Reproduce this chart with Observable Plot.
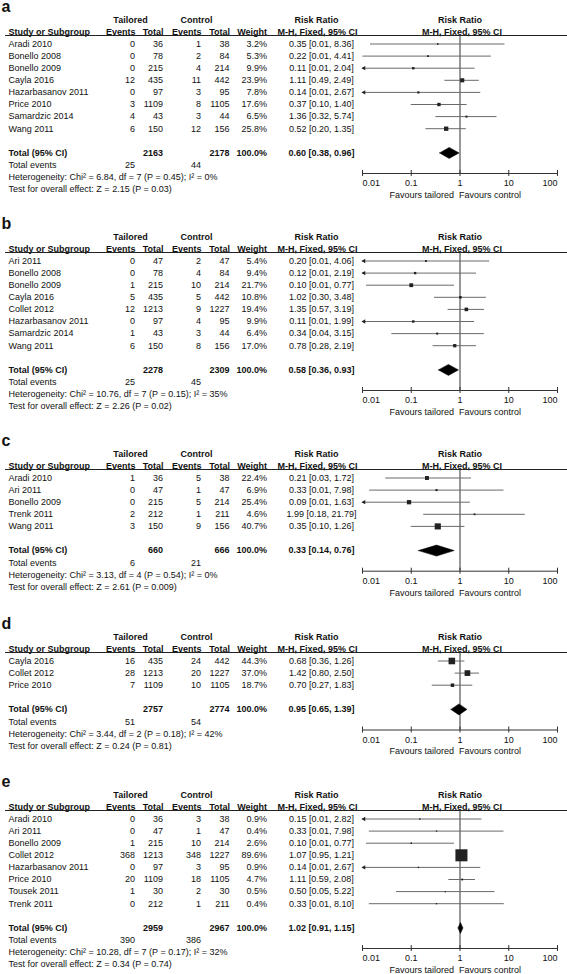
<!DOCTYPE html>
<html>
<head>
<meta charset="utf-8">
<script src="https://cdn.jsdelivr.net/npm/d3@7"></script>
<script src="https://cdn.jsdelivr.net/npm/@observablehq/plot@0.6"></script>
<style>
  html, body { margin: 0; padding: 0; background: #fff; }
  #chart { width: 567px; }
  #chart svg { display: block; }
</style>
</head>
<body>
<div id="chart"></div>
<script>
// ---------- Panel a ----------
const aStudy   = ["Aradi 2010", "Bonello 2008", "Bonello 2009", "Cayla 2016", "Hazarbasanov 2011", "Price 2010", "Samardzic 2014", "Wang 2011"];
const aTailEv  = [0, 0, 0, 12, 0, 3, 4, 6];
const aTailTot = [36, 78, 215, 435, 97, 1109, 43, 150];
const aCtrlEv  = [1, 2, 4, 11, 3, 8, 3, 12];
const aCtrlTot = [38, 84, 214, 442, 95, 1105, 44, 156];
const aWeight  = [3.2, 5.3, 9.9, 23.9, 7.8, 17.6, 6.5, 25.8];
const aRR      = [0.35, 0.22, 0.11, 1.11, 0.14, 0.37, 1.36, 0.52];
const aLo      = [0.01, 0.01, 0.01, 0.49, 0.01, 0.10, 0.32, 0.20];
const aHi      = [8.36, 4.41, 2.04, 2.49, 2.67, 1.40, 5.74, 1.35];
const aLoLine  = [0.0146, 0.0102, 0.006, 0.49, 0.007, 0.10, 0.32, 0.20];
const aTotals  = [2163, 2178];
const aEvents  = [25, 44];
const aPooled  = [0.60, 0.38, 0.96];
const aHet     = "Heterogeneity: Chi² = 6.84, df = 7 (P = 0.45); I² = 0%";
const aTest    = "Test for overall effect: Z = 2.15 (P = 0.03)";

// ---------- Panel b ----------
const bStudy   = ["Ari 2011", "Bonello 2008", "Bonello 2009", "Cayla 2016", "Collet 2012", "Hazarbasanov 2011", "Samardzic 2014", "Wang 2011"];
const bTailEv  = [0, 0, 1, 5, 12, 0, 1, 6];
const bTailTot = [47, 78, 215, 435, 1213, 97, 43, 150];
const bCtrlEv  = [2, 4, 10, 5, 9, 4, 3, 8];
const bCtrlTot = [47, 84, 214, 442, 1227, 95, 44, 156];
const bWeight  = [5.4, 9.4, 21.7, 10.8, 19.4, 9.9, 6.4, 17.0];
const bRR      = [0.20, 0.12, 0.10, 1.02, 1.35, 0.11, 0.34, 0.78];
const bLo      = [0.01, 0.01, 0.01, 0.30, 0.57, 0.01, 0.04, 0.28];
const bHi      = [4.06, 2.19, 0.77, 3.48, 3.19, 1.99, 3.15, 2.19];
const bLoLine  = [0.007, 0.006, 0.0121, 0.30, 0.57, 0.006, 0.04, 0.28];
const bTotals  = [2278, 2309];
const bEvents  = [25, 45];
const bPooled  = [0.58, 0.36, 0.93];
const bHet     = "Heterogeneity: Chi² = 10.76, df = 7 (P = 0.15); I² = 35%";
const bTest    = "Test for overall effect: Z = 2.26 (P = 0.02)";

// ---------- Panel c ----------
const cStudy   = ["Aradi 2010", "Ari 2011", "Bonello 2009", "Trenk 2011", "Wang 2011"];
const cTailEv  = [1, 0, 0, 2, 3];
const cTailTot = [36, 47, 215, 212, 150];
const cCtrlEv  = [5, 1, 5, 1, 9];
const cCtrlTot = [38, 47, 214, 211, 156];
const cWeight  = [22.4, 6.9, 25.4, 4.6, 40.7];
const cRR      = [0.21, 0.33, 0.09, 1.99, 0.35];
const cLo      = [0.03, 0.01, 0.01, 0.18, 0.10];
const cHi      = [1.72, 7.98, 1.63, 21.79, 1.26];
const cLoLine  = [0.03, 0.0140, 0.005, 0.18, 0.10];
const cTotals  = [660, 666];
const cEvents  = [6, 21];
const cPooled  = [0.33, 0.14, 0.76];
const cHet     = "Heterogeneity: Chi² = 3.13, df = 4 (P = 0.54); I² = 0%";
const cTest    = "Test for overall effect: Z = 2.61 (P = 0.009)";

// ---------- Panel d ----------
const dStudy   = ["Cayla 2016", "Collet 2012", "Price 2010"];
const dTailEv  = [16, 28, 7];
const dTailTot = [435, 1213, 1109];
const dCtrlEv  = [24, 20, 10];
const dCtrlTot = [442, 1227, 1105];
const dWeight  = [44.3, 37.0, 18.7];
const dRR      = [0.68, 1.42, 0.70];
const dLo      = [0.36, 0.80, 0.27];
const dHi      = [1.26, 2.50, 1.83];
const dLoLine  = [0.36, 0.80, 0.27];
const dTotals  = [2757, 2774];
const dEvents  = [51, 54];
const dPooled  = [0.95, 0.65, 1.39];
const dHet     = "Heterogeneity: Chi² = 3.44, df = 2 (P = 0.18); I² = 42%";
const dTest    = "Test for overall effect: Z = 0.24 (P = 0.81)";

// ---------- Panel e ----------
const eStudy   = ["Aradi 2010", "Ari 2011", "Bonello 2009", "Collet 2012", "Hazarbasanov 2011", "Price 2010", "Tousek 2011", "Trenk 2011"];
const eTailEv  = [0, 0, 1, 368, 0, 20, 1, 0];
const eTailTot = [36, 47, 215, 1213, 97, 1109, 30, 212];
const eCtrlEv  = [3, 1, 10, 348, 3, 18, 2, 1];
const eCtrlTot = [38, 47, 214, 1227, 95, 1105, 30, 211];
const eWeight  = [0.9, 0.4, 2.6, 89.6, 0.9, 4.7, 0.5, 0.4];
const eRR      = [0.15, 0.33, 0.10, 1.07, 0.14, 1.11, 0.50, 0.33];
const eLo      = [0.01, 0.01, 0.01, 0.95, 0.01, 0.59, 0.05, 0.01];
const eHi      = [2.82, 7.98, 0.77, 1.21, 2.67, 2.08, 5.22, 8.10];
const eLoLine  = [0.007, 0.0138, 0.0121, 0.95, 0.006, 0.59, 0.05, 0.0138];
const eTotals  = [2959, 2967];
const eEvents  = [390, 386];
const ePooled  = [1.02, 0.91, 1.15];
const eHet     = "Heterogeneity: Chi² = 10.28, df = 7 (P = 0.17); I² = 32%";
const eTest    = "Test for overall effect: Z = 0.34 (P = 0.74)";

// ---------- shared ----------
const panelLetters = ["a", "b", "c", "d", "e"];
const xDomain = [0.01, 100];
const tickValues = [0.01, 0.1, 1, 10, 100];
const tickLabels = ["0.01", "0.1", "1", "10", "100"];
const favourLabels = ["Favours tailored", "Favours control"];

const panels = [
  {study: aStudy, te: aTailEv, tt: aTailTot, ce: aCtrlEv, ct: aCtrlTot, w: aWeight, rr: aRR, lo: aLo, hi: aHi, ll: aLoLine, tot: aTotals, ev: aEvents, pool: aPooled, het: aHet, test: aTest},
  {study: bStudy, te: bTailEv, tt: bTailTot, ce: bCtrlEv, ct: bCtrlTot, w: bWeight, rr: bRR, lo: bLo, hi: bHi, ll: bLoLine, tot: bTotals, ev: bEvents, pool: bPooled, het: bHet, test: bTest},
  {study: cStudy, te: cTailEv, tt: cTailTot, ce: cCtrlEv, ct: cCtrlTot, w: cWeight, rr: cRR, lo: cLo, hi: cHi, ll: cLoLine, tot: cTotals, ev: cEvents, pool: cPooled, het: cHet, test: cTest},
  {study: dStudy, te: dTailEv, tt: dTailTot, ce: dCtrlEv, ct: dCtrlTot, w: dWeight, rr: dRR, lo: dLo, hi: dHi, ll: dLoLine, tot: dTotals, ev: dEvents, pool: dPooled, het: dHet, test: dTest},
  {study: eStudy, te: eTailEv, tt: eTailTot, ce: eCtrlEv, ct: eCtrlTot, w: eWeight, rr: eRR, lo: eLo, hi: eHi, ll: eLoLine, tot: eTotals, ev: eEvents, pool: ePooled, het: eHet, test: eTest}
];

// layout
const panelHeights = [217, 217, 183, 158, 199];
const ROWPX = 12.1, ROW0 = 43.5;
const LEFT = 362, RIGHT = 10, W = 567;
const FONT = "'Liberation Sans', Arial, Helvetica, sans-serif";
const FS = 9;
const INK = "#111";

const fmtCI = (r, l, h) => `${r.toFixed(2)} [${l.toFixed(2)}, ${h.toFixed(2)}]`;

function drawPanel(letter, p, H) {
  const n = p.study.length;
  const u = px => px / ROWPX;
  const rows = p.study.map((s, i) => ({
    k: i, study: s, te: p.te[i], tt: p.tt[i], ce: p.ce[i], ct: p.ct[i],
    w: p.w[i], rr: p.rr[i], lo: p.lo[i], hi: p.hi[i], ll: p.ll[i]
  }));
  const kTotal = n + 1;
  const kLetter = u(6.5 - ROW0), kHead1 = u(20 - ROW0), kHead2 = u(31.5 - ROW0), kRule = u(35 - ROW0);
  const kEvents = kTotal + u(12.5), kHet = kTotal + u(24.6), kTest = kTotal + u(36.6);
  const kAxis = kTotal + u(20.6), kTick = kAxis + u(10), kFav = kAxis + u(21.5);
  const at = px => px - LEFT;
  const T = {fontFamily: FONT, fontSize: FS, fill: INK, frameAnchor: "left"};
  const B = {...T, fontWeight: "bold"};
  const lbl = (s, k, px, anchor, style) => Plot.text([s], {text: d => d, y: () => k, dx: at(px), textAnchor: anchor, ...style});

  const [pr, pl, ph] = p.pool;
  const hd = u(5.5);
  const diamond = [
    {x: pl, y: kTotal}, {x: pr, y: kTotal - hd}, {x: ph, y: kTotal}, {x: pr, y: kTotal + hd}, {x: pl, y: kTotal}
  ];
  const clipped = rows.filter(d => d.ll < xDomain[0]);

  return Plot.plot({
    width: W, height: H,
    marginLeft: LEFT, marginRight: RIGHT, marginTop: 0, marginBottom: 0,
    style: {background: "#fff", overflow: "visible"},
    x: {type: "log", domain: xDomain, axis: null},
    y: {type: "linear", domain: [u(-ROW0), u(H - ROW0)], range: [0, H], axis: null},
    r: {type: "linear", domain: [0, 100], range: [0.7, 7.5]},
    marks: [
      // panel letter
      lbl(letter, kLetter, 1, "start", {...B, fontSize: 16}),
      // headers
      lbl("Tailored", kHead1, 130, "middle", B),
      lbl("Control", kHead1, 196, "middle", B),
      lbl("Risk Ratio", kHead1, 316, "middle", B),
      Plot.text(["Risk Ratio"], {text: d => d, x: () => 1, y: () => kHead1, textAnchor: "middle", ...B, frameAnchor: undefined}),
      lbl("Study or Subgroup", kHead2, 8, "start", B),
      lbl("Events", kHead2, 135, "end", B),
      lbl("Total", kHead2, 163, "end", B),
      lbl("Events", kHead2, 201, "end", B),
      lbl("Total", kHead2, 229.5, "end", B),
      lbl("Weight", kHead2, 266.5, "end", B),
      lbl("M-H, Fixed, 95% CI", kHead2, 317, "middle", B),
      Plot.text(["M-H, Fixed, 95% CI"], {text: d => d, x: () => 1, y: () => kHead2, dx: 2, textAnchor: "middle", ...B, frameAnchor: undefined}),
      Plot.ruleY([kRule], {y: d => d, stroke: "#222", strokeWidth: 1, insetLeft: -(LEFT - 5), insetRight: -RIGHT}),

      // study rows
      Plot.text(rows, {text: "study", y: "k", dx: at(8), textAnchor: "start", ...T}),
      Plot.text(rows, {text: d => String(d.te), y: "k", dx: at(134.5), textAnchor: "end", ...T}),
      Plot.text(rows, {text: d => String(d.tt), y: "k", dx: at(162.5), textAnchor: "end", ...T}),
      Plot.text(rows, {text: d => String(d.ce), y: "k", dx: at(200.5), textAnchor: "end", ...T}),
      Plot.text(rows, {text: d => String(d.ct), y: "k", dx: at(229), textAnchor: "end", ...T}),
      Plot.text(rows, {text: d => d.w.toFixed(1) + "%", y: "k", dx: at(266.5), textAnchor: "end", ...T}),
      Plot.text(rows, {text: d => fmtCI(d.rr, d.lo, d.hi), y: "k", dx: at(321), textAnchor: "middle", ...T}),

      // totals
      lbl("Total (95% CI)", kTotal, 8, "start", B),
      lbl(String(p.tot[0]), kTotal, 162.5, "end", B),
      lbl(String(p.tot[1]), kTotal, 229, "end", B),
      lbl("100.0%", kTotal, 266.5, "end", B),
      lbl(fmtCI(pr, pl, ph), kTotal, 321, "middle", B),
      lbl("Total events", kEvents, 8, "start", T),
      lbl(String(p.ev[0]), kEvents, 134.5, "end", T),
      lbl(String(p.ev[1]), kEvents, 200.5, "end", T),
      lbl(p.het, kHet, 8, "start", T),
      lbl(p.test, kTest, 8, "start", T),

      // forest: reference line at 1
      Plot.ruleX([1], {x: d => d, y1: kRule, y2: kAxis, stroke: "#333", strokeWidth: 1}),
      // CIs
      Plot.ruleY(rows, {y: "k", x1: d => Math.max(d.ll, xDomain[0]), x2: "hi", stroke: "#6a6a6a", strokeWidth: 1}),
      // clipped arrows
      Plot.dot(clipped, {x: () => xDomain[0], y: "k", symbol: "triangle", rotate: -90, r: 1.6, dx: 1.5, fill: "#222", stroke: "none"}),
      // squares
      Plot.dot(rows, {x: "rr", y: "k", r: "w", symbol: "square", fill: "#222", stroke: "none"}),
      // pooled diamond
      Plot.line(diamond, {x: "x", y: "y", fill: "#000", stroke: "#000", strokeWidth: 0.5}),

      // axis
      Plot.ruleY([kAxis], {y: d => d, x1: () => xDomain[0], x2: () => xDomain[1], stroke: "#333", strokeWidth: 1}),
      Plot.ruleX(tickValues, {x: d => d, y1: kAxis - u(3), y2: kAxis + u(3), stroke: "#333", strokeWidth: 1}),
      Plot.text(tickValues.slice(1, -1), {x: d => d, y: () => kTick, text: (d, i) => tickLabels[i + 1], textAnchor: "middle", fontFamily: FONT, fontSize: FS, fill: INK}),
      Plot.text([tickValues[0]], {x: d => d, y: () => kTick, text: () => tickLabels[0], textAnchor: "start", fontFamily: FONT, fontSize: FS, fill: INK}),
      Plot.text([tickValues[tickValues.length - 1]], {x: d => d, y: () => kTick, text: () => tickLabels[tickLabels.length - 1], textAnchor: "end", fontFamily: FONT, fontSize: FS, fill: INK}),
      Plot.text([favourLabels[0]], {x: () => 1, y: () => kFav, text: d => d, textAnchor: "end", dx: -6, fontFamily: FONT, fontSize: FS, fill: INK}),
      Plot.text([favourLabels[1]], {x: () => 1, y: () => kFav, text: d => d, textAnchor: "start", dx: -1, fontFamily: FONT, fontSize: FS, fill: INK})
    ]
  });
}

const root = document.getElementById("chart");
panels.forEach((p, i) => root.appendChild(drawPanel(panelLetters[i], p, panelHeights[i])));
</script>
</body>
</html>
